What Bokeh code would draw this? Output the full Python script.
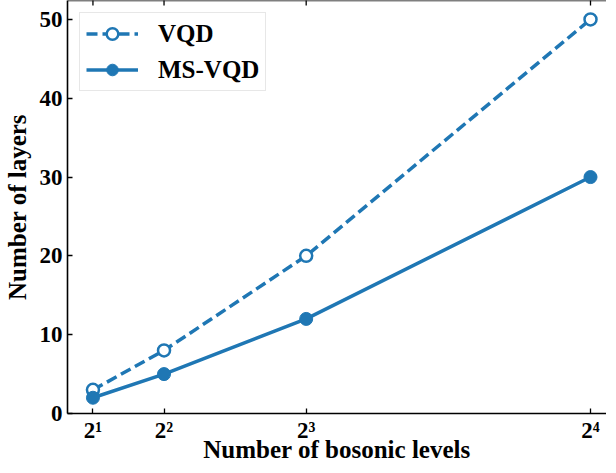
import math
from bokeh.plotting import figure
from bokeh.models import FixedTicker, Range1d, Span
from bokeh.embed import file_html
from bokeh.resources import INLINE

# data
levels = [2, 4, 8, 16]
level_labels = ["2\u00b9", "2\u00b2", "2\u00b3", "2\u2074"]
vqd_layers = [3, 8, 20, 50]
msvqd_layers = [2, 5, 12, 30]
y_ticks = [0, 10, 20, 30, 40, 50]

BLUE = "#1f77b4"
FONT = "Liberation Serif"
X0, X1 = 1.284, 16.45
Y0, Y1 = 0, 52.4

p = figure(width=606, height=465, output_backend="svg", toolbar_location=None,
           x_range=Range1d(X0, X1), y_range=Range1d(Y0, Y1),
           min_border_left=55, min_border_right=0, min_border_top=0,
           min_border_bottom=0, x_axis_label="Number of bosonic levels",
           y_axis_label="Number of layers")
p.outline_line_color = None
p.xgrid.visible = False
p.ygrid.visible = False
p.background_fill_color = "white"
p.border_fill_color = "white"

def style_axis(ax):
    ax.axis_line_width = 1.6
    ax.axis_line_color = "black"
    ax.major_tick_in = 5
    ax.major_tick_out = 0
    ax.major_tick_line_width = 1.3
    ax.major_tick_line_color = "black"
    ax.minor_tick_line_color = None
    ax.major_label_text_font = FONT
    ax.major_label_text_font_style = "bold"
    ax.major_label_text_font_size = "23px"
    ax.major_label_text_color = "black"
    ax.axis_label_text_font = FONT
    ax.axis_label_text_font_style = "bold"
    ax.axis_label_text_font_size = "25px"
    ax.axis_label_text_color = "black"

xa = p.xaxis[0]
style_axis(xa)
xa.ticker = FixedTicker(ticks=levels)
xa.major_label_overrides = {lv: lb for lv, lb in zip(levels, level_labels)}
xa.major_label_standoff = 4
xa.axis_label_standoff = -10

ya = p.yaxis[0]
style_axis(ya)
ya.ticker = FixedTicker(ticks=y_ticks)
ya.major_label_standoff = 5
ya.axis_label_standoff = 6

# top spine with inward ticks
p.add_layout(Span(location=Y1, dimension="width", line_color="black",
                  line_width=1.6))
p.scatter(levels, [Y1] * len(levels), marker="dash", angle=math.pi / 2,
          size=10, line_color="black", line_width=1.3)

p.line(levels, vqd_layers, line_color=BLUE, line_width=3.5, line_dash="11 5",
       legend_label="VQD")
p.scatter(levels, vqd_layers, marker="circle", size=12, fill_color="white",
          line_color=BLUE, line_width=2.5, legend_label="VQD")
p.line(levels, msvqd_layers, line_color=BLUE, line_width=3.5,
       legend_label="MS-VQD")
p.scatter(levels, msvqd_layers, marker="circle", size=13, fill_color=BLUE,
          line_color=BLUE, legend_label="MS-VQD")

lg = p.legend[0]
lg.location = "top_left"
lg.margin = 12
lg.padding = 6
lg.spacing = 7
lg.glyph_width = 52
lg.glyph_height = 29
lg.label_height = 29
lg.label_standoff = 20
lg.label_text_font = FONT
lg.label_text_font_style = "bold"
lg.label_text_font_size = "25px"
lg.label_text_color = "black"
lg.border_line_color = "#d0d0d0"
lg.border_line_width = 1
lg.background_fill_alpha = 0.8

open("out.html", "w").write(file_html(p, INLINE))
